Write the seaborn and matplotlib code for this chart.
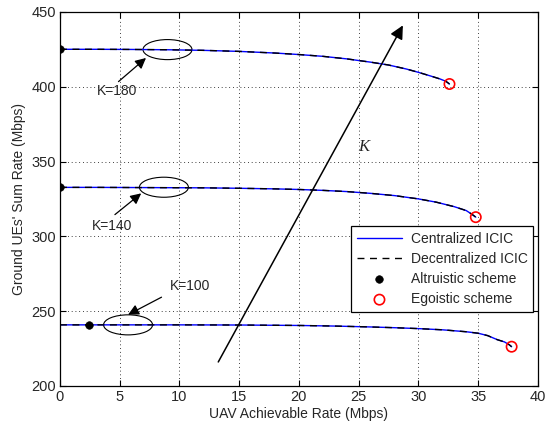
import numpy as np
import pandas as pd
import seaborn as sns
import matplotlib.pyplot as plt
from matplotlib.patches import Ellipse

# values
x_k180 = [0, 3, 6, 9, 12, 15, 18, 20, 22, 24, 26, 27.5, 29, 30, 31, 31.8, 32.3, 32.6]
y_k180 = [425, 425, 424.9, 424.7, 424.3, 423.6, 422.5, 421.5, 420.3, 418.6, 416.4, 414.5, 411.8, 409.6, 407.2, 405.2, 403.6, 401.8]

x_k140 = [0, 3, 6, 9, 12, 15, 18, 20, 22, 24, 26, 28, 30, 31.5, 33, 34, 34.5, 34.8]
y_k140 = [332.7, 332.7, 332.6, 332.5, 332.4, 332.1, 331.7, 331.3, 330.7, 329.9, 328.7, 327.2, 325.0, 322.8, 319.8, 317.2, 314.6, 312.8]

x_k100 = [0, 5, 10, 15, 20, 23, 26, 28, 30, 32, 34, 35, 35.8, 36.6, 37.2, 37.6, 37.8]
y_k100 = [240.8, 240.8, 240.8, 240.7, 240.4, 240.0, 239.4, 238.9, 238.3, 237.5, 236.2, 235.2, 233.6, 230.9, 229.4, 227.5, 226.2]

altruistic_x = [0, 0, 2.4]
altruistic_y = [425, 332.7, 240.8]
egoistic_x = [32.6, 34.8, 37.8]
egoistic_y = [401.8, 312.8, 226.2]

k_labels = ["K=180", "K=140", "K=100"]

curves = pd.concat([
    pd.DataFrame({"rate": xs, "sum": ys, "K": k})
    for xs, ys, k in [(x_k180, y_k180, "K=180"), (x_k140, y_k140, "K=140"), (x_k100, y_k100, "K=100")]
])

sns.set_theme(style="ticks")
plt.rcParams["font.family"] = ["Liberation Sans", "DejaVu Sans"]
plt.rcParams["xtick.direction"] = "in"
plt.rcParams["ytick.direction"] = "in"

fig = plt.figure(figsize=(5.45, 4.25), dpi=100)
ax = fig.add_axes([0.110, 0.092, 0.877, 0.880])

first = True
for k in k_labels:
    d = curves[curves["K"] == k]
    sns.lineplot(data=d, x="rate", y="sum", sort=False, ax=ax, color="blue", lw=1.0,
                 label="Centralized ICIC" if first else None)
    sns.lineplot(data=d, x="rate", y="sum", sort=False, ax=ax, color="black", lw=1.0,
                 dashes=(5, 4), label="Decentralized ICIC" if first else None)
    first = False

sns.scatterplot(x=altruistic_x, y=altruistic_y, ax=ax, color="black", s=30, edgecolor="black",
                zorder=5, label="Altruistic scheme")
sns.scatterplot(x=egoistic_x, y=egoistic_y, ax=ax, facecolor="none", edgecolor="red", s=55,
                linewidth=1.2, zorder=5, label="Egoistic scheme")

# ellipses and little arrows marking each K
ellipses = [(9.0, 424.8), (8.7, 332.8), (5.7, 240.8)]
for cx, cy in ellipses:
    ax.add_patch(Ellipse((cx, cy), 4.1, 13.4, fill=False, color="black", lw=0.8))

arr = dict(arrowstyle="-|>", mutation_scale=16, color="black", lw=0.9, shrinkA=0, shrinkB=0)
ax.annotate("", xy=(7.2, 419.2), xytext=(4.9, 403.4), arrowprops=arr)
ax.annotate("", xy=(6.8, 328.7), xytext=(4.6, 314.5), arrowprops=arr)
ax.annotate("", xy=(5.7, 247.6), xytext=(8.5, 259.3), arrowprops=arr)
ax.text(4.8, 397.3, "K=180", ha="center", va="center", fontsize=10)
ax.text(4.4, 306.7, "K=140", ha="center", va="center", fontsize=10)
ax.text(10.9, 266.7, "K=100", ha="center", va="center", fontsize=10)

ax.annotate("", xy=(28.7, 441), xytext=(13.25, 216),
            arrowprops=dict(arrowstyle="-|>", mutation_scale=20, color="black", lw=1.1,
                            shrinkA=0, shrinkB=0))
ax.text(25.4, 360, "K", fontsize=12, style="italic", family=["Liberation Serif", "DejaVu Serif"],
        ha="center", va="center")

ax.set_xlim(0, 40)
ax.set_ylim(200, 450)
ax.set_xticks(np.arange(0, 41, 5))
ax.set_yticks(np.arange(200, 451, 50))
ax.tick_params(labelsize=10.5, top=True, right=True, length=4, width=0.8, color="black", pad=3)
ax.grid(True, color="black", ls=(0, (1, 3.5)), lw=0.6)
for s in ax.spines.values():
    s.set_color("black")
    s.set_linewidth(0.9)
ax.set_xlabel("UAV Achievable Rate (Mbps)", fontsize=10, labelpad=2)
ax.set_ylabel("Ground UEs' Sum Rate (Mbps)", fontsize=10, labelpad=4)

leg = ax.legend(loc="lower right", bbox_to_anchor=(0.99, 0.198), borderaxespad=0, fontsize=10,
                frameon=True, fancybox=False, edgecolor="black", framealpha=1, handlelength=3.3,
                labelspacing=0.45, borderpad=0.4, handletextpad=0.6)
leg.get_frame().set_linewidth(0.9)

fig.savefig("out.png", dpi=100)
